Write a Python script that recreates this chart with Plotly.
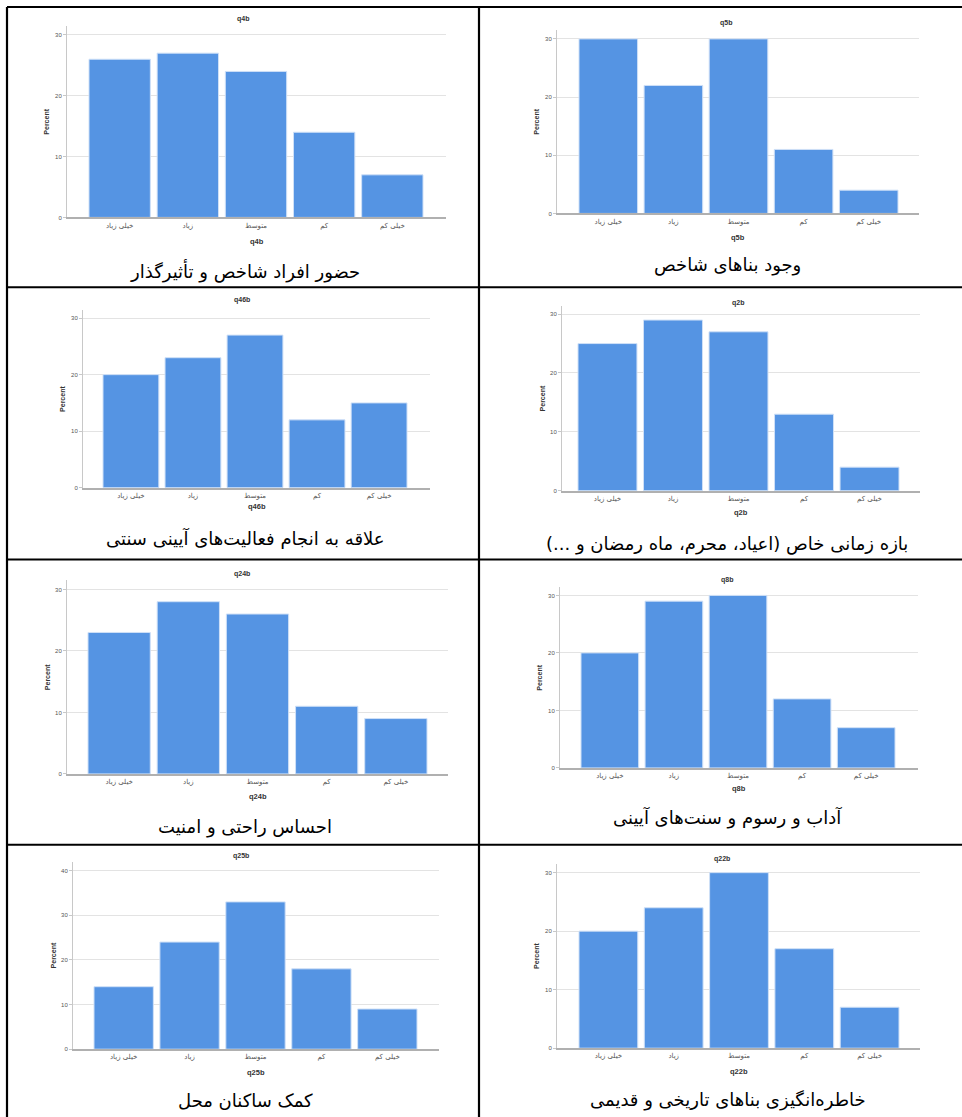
import plotly.graph_objects as go

W, H = 962, 1117

categories = ["خیلی زیاد", "زیاد", "متوسط", "کم", "خیلی کم"]
q4b = [26, 27, 24, 14, 7]
q5b = [30, 22, 30, 11, 4]
q46b = [20, 23, 27, 12, 15]
q2b = [25, 29, 27, 13, 4]
q24b = [23, 28, 26, 11, 9]
q8b = [20, 29, 30, 12, 7]
q25b = [14, 24, 33, 18, 9]
q22b = [20, 24, 30, 17, 7]

names = ["q4b", "q5b", "q46b", "q2b", "q24b", "q8b", "q25b", "q22b"]
series = [q4b, q5b, q46b, q2b, q24b, q8b, q25b, q22b]
captions = [
    "حضور افراد شاخص و تأثیرگذار",
    "وجود بناهای شاخص",
    "علاقه به انجام فعالیت‌های آیینی سنتی",
    "بازه زمانی خاص (اعیاد، محرم، ماه رمضان و ...)",
    "احساس راحتی و امنیت",
    "آداب و رسوم و سنت‌های آیینی",
    "کمک ساکنان محل",
    "خاطره‌انگیزی بناهای تاریخی و قدیمی",
]
top_ticks = [30, 30, 30, 30, 30, 30, 40, 30]

# panel geometry in pixels
geo = [
    # axL, gridR, b1, b5, y0, ytickpx, axTop, title_x, title_y, xtitle_y, cap_x, cap_y
    (67, 446, 89, 423, 218, 35, 26, 243, 19, 242, 245, 272),
    (557, 919, 579, 898, 214, 39, 30, 726, 23, 238, 727, 266),
    (83, 430, 103, 407, 489, 319, 311, 242, 301, 508, 245, 539),
    (562, 920, 578, 899, 492, 315, 307, 738, 304, 514, 727, 545),
    (67, 448, 88, 427, 776, 591, 582, 242, 576, 799, 245, 829),
    (560, 918, 581, 895, 770, 597, 589, 727, 582, 791, 727, 820),
    (73, 439, 94, 417, 1052, 873, 864, 241, 858, 1075, 245, 1103),
    (557, 920, 579, 899, 1051, 875, 866, 722, 861, 1074, 728, 1103),
]

def px(x):
    return x / W

def py(y):
    return 1 - y / H

BAR = "#5594e3"
GAP = 0.1
fig = go.Figure()
annotations = []
shapes = []
layout = {}

def ann(x, y, text, size, color="#333", family="Liberation Sans", angle=0):
    return dict(x=px(x), y=py(y), xref="paper", yref="paper", text=text,
                showarrow=False, xanchor="center", yanchor="middle",
                textangle=angle, font=dict(size=size, color=color, family=family))

for i in range(8):
    axL, gridR, b1, b5, y0, ytp, axTop, tx, ty, xty, cx, cy = geo[i]
    k = "" if i == 0 else str(i + 1)
    s = (b5 - b1) / (4 + 1 - GAP)
    xr0 = -(1 - GAP) / 2 - (b1 - axL) / s
    xr1 = 4 + (1 - GAP) / 2 + (gridR - b5) / s
    ymax = top_ticks[i] * (y0 - axTop) / (y0 - ytp)
    fig.add_trace(go.Bar(
        x=list(range(5)), y=series[i], xaxis="x" + k, yaxis="y" + k,
        marker=dict(color=BAR, line=dict(color="#cfe0f7", width=1)),
        showlegend=False, hoverinfo="skip",
    ))
    layout["xaxis" + k] = dict(
        domain=[px(axL), px(gridR)], range=[xr0, xr1], anchor="y" + k,
        tickmode="array", tickvals=list(range(5)), ticktext=categories,
        tickfont=dict(size=7, color="#555", family="DejaVu Sans"),
        showline=True, linecolor="#b0b0b0", linewidth=1.5, showgrid=False,
        ticks="", fixedrange=True, zeroline=False,
    )
    layout["yaxis" + k] = dict(
        domain=[py(y0), py(axTop)], range=[0, ymax], anchor="x" + k,
        tickmode="linear", tick0=0, dtick=10,
        tickfont=dict(size=6, color="#555", family="Liberation Sans"),
        showline=True, linecolor="#c8c8c8", linewidth=1,
        showgrid=True, gridcolor="#e3e3e3", gridwidth=1,
        ticks="outside", ticklen=3, tickcolor="#c8c8c8",
        zeroline=False, fixedrange=True,
    )
    annotations.append(ann(tx, ty, "<b>%s</b>" % names[i], 7))
    annotations.append(ann((axL + gridR) / 2, xty, "<b>%s</b>" % names[i], 7.5))
    annotations.append(ann(axL - 20, (y0 + axTop) / 2, "<b>Percent</b>", 7, angle=-90))
    annotations.append(ann(cx, cy, "\u202b" + captions[i] + "\u202c", 18,
                           color="#000", family="DejaVu Sans"))

# table borders
LW = 2.2
for yy in [7, 288, 561, 847]:
    shapes.append(dict(type="line", xref="paper", yref="paper",
                       x0=px(7), x1=1.01, y0=py(yy), y1=py(yy),
                       line=dict(color="#000", width=LW)))
for xx in [7, 479]:
    shapes.append(dict(type="line", xref="paper", yref="paper",
                       x0=px(xx), x1=px(xx), y0=py(7), y1=-0.01,
                       line=dict(color="#000", width=LW)))

fig.update_layout(
    width=W, height=H, margin=dict(l=0, r=0, t=0, b=0),
    paper_bgcolor="white", plot_bgcolor="white",
    bargap=GAP, annotations=annotations, shapes=shapes, **layout,
)
fig.write_html("out.html", config={"displayModeBar": False},
               post_script="document.body.style.margin='0';")
